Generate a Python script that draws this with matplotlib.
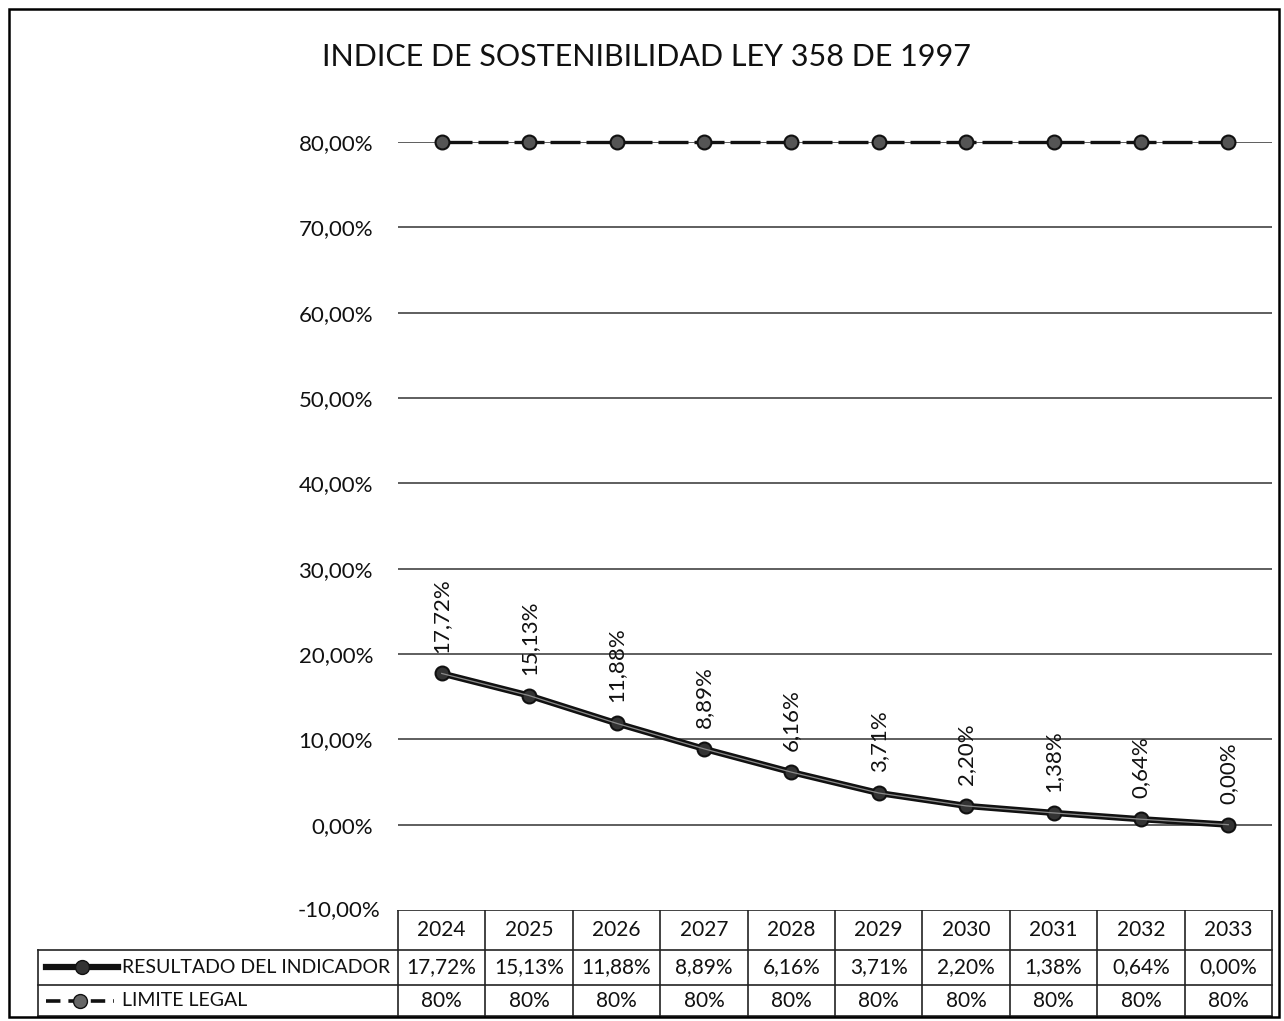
import numpy as np
import matplotlib.pyplot as plt
from matplotlib.lines import Line2D
from matplotlib.patches import Rectangle

plt.rcParams['font.family'] = ['Lato', 'DejaVu Sans']

years = ['2024', '2025', '2026', '2027', '2028', '2029', '2030', '2031', '2032', '2033']
resultado = [17.72, 15.13, 11.88, 8.89, 6.16, 3.71, 2.20, 1.38, 0.64, 0.00]
limite = [80, 80, 80, 80, 80, 80, 80, 80, 80, 80]
yticks = [-10, 0, 10, 20, 30, 40, 50, 60, 70, 80]

W, H = 1284, 1021
ink = '#111111'


def px_axes(fig, x0, y0, x1, y1):
    # axes placed by pixel box (top-left origin)
    return fig.add_axes([x0 / W, 1 - y1 / H, (x1 - x0) / W, (y1 - y0) / H])


def pct(v, dec=2):
    return f"{v:.{dec}f}".replace('.', ',') + '%'


fig = plt.figure(figsize=(W / 100, H / 100), dpi=100)

# outer frame
fig.patches.append(Rectangle((9 / W, 1 - 1017 / H), 1270 / W, 1008 / H,
                             transform=fig.transFigure, fill=False,
                             edgecolor='black', lw=1.8))

fig.text(646 / W, 1 - 57 / H, 'INDICE DE SOSTENIBILIDAD LEY 358 DE 1997',
         ha='center', va='center', fontsize=22, color=ink)

ax = px_axes(fig, 398, 142, 1272, 910)
x = np.arange(len(years))
ax.set_xlim(-0.5, len(years) - 0.5)
ax.set_ylim(-10, 80)
for s in ax.spines.values():
    s.set_visible(False)
ax.set_xticks([])
ax.set_yticks(yticks[1:])
ax.set_yticklabels([pct(v) for v in yticks[1:]], fontsize=16, color=ink)
ax.tick_params(axis='y', length=0, pad=18)
ax.grid(axis='y', color='#333333', lw=1.1)
ax.set_axisbelow(True)
fig.text(380 / W, 1 - 910 / H, pct(-10), ha='right', va='center',
         fontsize=16, color=ink)

# limite legal
ax.plot(x, limite, color=ink, lw=2.4, dashes=(9, 1.8),
        marker='o', markersize=10, markerfacecolor='#555555',
        markeredgecolor=ink, markeredgewidth=1.5, clip_on=False, zorder=3)

# resultado del indicador
ax.plot(x, resultado, color=ink, lw=4.5, solid_capstyle='round',
        marker='o', markersize=10, markerfacecolor='#333333',
        markeredgecolor=ink, markeredgewidth=1.5, clip_on=False, zorder=4)
ax.plot(x, resultado, color='#8a8a8a', lw=0.9, zorder=5)

for xi, v in zip(x, resultado):
    ax.annotate(pct(v), (xi, v), xytext=(0, 15), textcoords='offset points',
                rotation=90, ha='center', va='bottom', fontsize=16, color=ink)

# data table under the chart
tx = px_axes(fig, 0, 910, W, 1017)
tx.set_xlim(0, W)
tx.set_ylim(1017, 910)
tx.axis('off')

col_left = 398
col_w = (1272 - 398) / len(years)
lc = '#222222'

tx.plot([col_left, 1272], [910, 910], color=lc, lw=1.2)
tx.plot([38, 1272], [950, 950], color=lc, lw=1.2)
tx.plot([38, 1272], [985, 985], color=lc, lw=1.2)
tx.plot([38, 1272], [1016, 1016], color=lc, lw=1.2)
tx.plot([38, 38], [950, 1017], color=lc, lw=1.2)
for i in range(len(years) + 1):
    xc = col_left + i * col_w
    tx.plot([xc, xc], [910, 1017], color=lc, lw=1.2)

for i, yr in enumerate(years):
    xc = col_left + (i + 0.5) * col_w
    tx.text(xc, 930, yr, ha='center', va='center', fontsize=15, color=ink)
    tx.text(xc, 967.5, pct(resultado[i]), ha='center', va='center',
            fontsize=15, color=ink)
    tx.text(xc, 1001, f"{limite[i]}%", ha='center', va='center',
            fontsize=15, color=ink)

# legend keys
tx.add_line(Line2D([46, 82, 118], [967.5, 967.5, 967.5], color=ink, lw=4.5,
                   marker='o', markevery=[1], markersize=10,
                   markerfacecolor='#333333', markeredgecolor=ink))
tx.add_line(Line2D([46, 80, 114], [1001, 1001, 1001], color=ink, lw=2.6,
                   dashes=(4, 2.2), marker='o', markevery=[1], markersize=10,
                   markerfacecolor='#666666', markeredgecolor=ink))
tx.text(122, 967.5, 'RESULTADO DEL INDICADOR', ha='left', va='center',
        fontsize=14, color=ink)
tx.text(122, 1001, 'LIMITE LEGAL', ha='left', va='center',
        fontsize=14, color=ink)

fig.savefig('out.png', dpi=100)
